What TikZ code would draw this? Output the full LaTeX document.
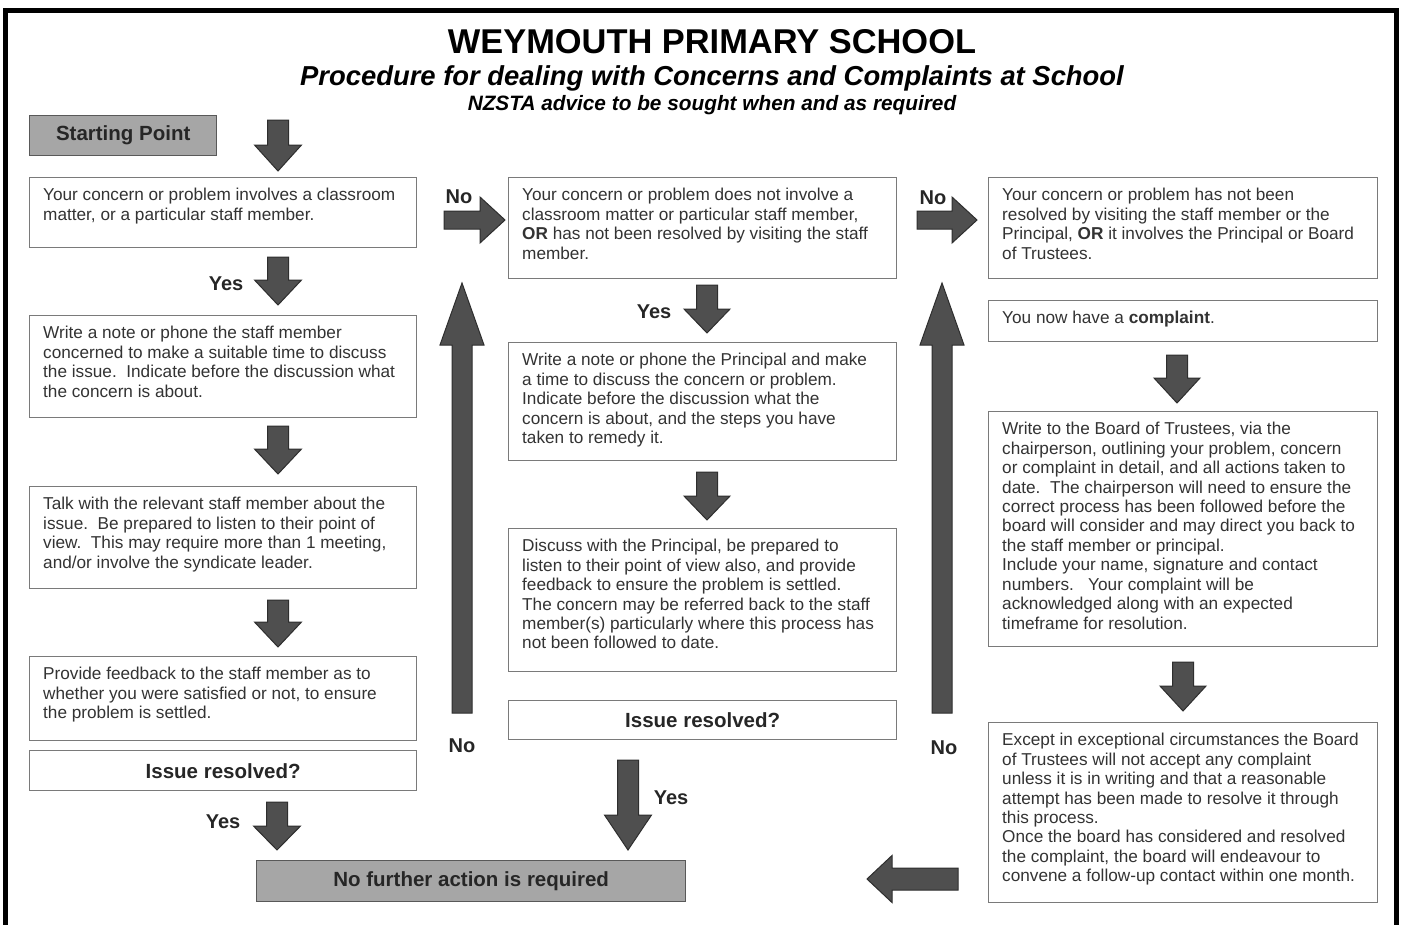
\documentclass[tikz,border=0pt]{standalone}
\usepackage{fontspec}
\setmainfont{Liberation Sans}
\definecolor{arrfill}{HTML}{4F4F4F}
\definecolor{arrline}{HTML}{2E2E2E}
\definecolor{boxline}{HTML}{7A7A7A}
\definecolor{grayfill}{HTML}{A6A6A6}
\definecolor{txtc}{HTML}{333333}
\tikzset{
  box/.style={draw=boxline, line width=1.4pt, fill=white, inner sep=0pt, anchor=north west},
  graybox/.style={box, fill=grayfill, draw=black!65},
  body/.style={inner sep=0pt, anchor=north west, align=left, text=txtc, font=\fontsize{17.2}{19.45}\selectfont},
  boldc/.style={font=\fontsize{20.5}{23}\selectfont\bfseries, text=black!85},
  lbl/.style={inner sep=0pt, font=\fontsize{20}{22}\selectfont\bfseries, text=black!85},
  arr/.style={fill=arrfill, draw=arrline, line width=1pt, line join=miter},
}
\newcommand\tbox[6]{%
  \node[box, minimum width=#4pt, minimum height=#5pt] (#1) at (#2,-#3) {};
  \node[body] (#1t) at ([xshift=14pt,yshift=-10.5pt]#1.north west) {\rule{0pt}{13pt}#6};}
\newcommand\cbox[7]{%
  \node[#7, minimum width=#4pt, minimum height=#5pt, boldc] (#1) at (#2,-#3) {#6};}
% down arrow: cx, ytop, ytip, shaft, head, headlen
\newcommand\darrow[6]{%
  \filldraw[arr] ({#1-#4/2},-#2) -- ({#1+#4/2},-#2) -- ({#1+#4/2},{-#3+#6}) -- ({#1+#5/2},{-#3+#6}) -- (#1,-#3) -- ({#1-#5/2},{-#3+#6}) -- ({#1-#4/2},{-#3+#6}) -- cycle;}
% up arrow: cx, ybottom, ytip, shaft, head, headlen
\newcommand\uarrow[6]{%
  \filldraw[arr] ({#1-#4/2},-#2) -- ({#1+#4/2},-#2) -- ({#1+#4/2},{-#3-#6}) -- ({#1+#5/2},{-#3-#6}) -- (#1,-#3) -- ({#1-#5/2},{-#3-#6}) -- ({#1-#4/2},{-#3-#6}) -- cycle;}
% right arrow: cy, xtail, xtip, shaft, head, headlen
\newcommand\rarrow[6]{%
  \filldraw[arr] (#2,{-#1+#4/2}) -- ({#3-#6},{-#1+#4/2}) -- ({#3-#6},{-#1+#5/2}) -- (#3,-#1) -- ({#3-#6},{-#1-#5/2}) -- ({#3-#6},{-#1-#4/2}) -- (#2,{-#1-#4/2}) -- cycle;}
% left arrow: cy, xtail, xtip, shaft, head, headlen
\newcommand\larrow[6]{%
  \filldraw[arr] (#2,{-#1+#4/2}) -- ({#3+#6},{-#1+#4/2}) -- ({#3+#6},{-#1+#5/2}) -- (#3,-#1) -- ({#3+#6},{-#1-#5/2}) -- ({#3+#6},{-#1-#4/2}) -- (#2,{-#1-#4/2}) -- cycle;}
\frenchspacing
\begin{document}
\begin{tikzpicture}[x=1pt,y=1pt]
\useasboundingbox (0,0) rectangle (1402,-924);
\fill[white] (0,0) rectangle (1402,-924);
\begin{scope}
\clip (0,0) rectangle (1402,-924);
\draw[line width=5pt] (5,-10) rectangle (1396,-980);
\end{scope}

% titles
\node[anchor=base, inner sep=0pt, font=\fontsize{34.4}{38}\selectfont\bfseries] (title) at (712,-53) {WEYMOUTH PRIMARY SCHOOL};
\node[anchor=base, inner sep=0pt, font=\fontsize{27.4}{30}\selectfont\bfseries\itshape] (sub) at (712,-85) {Procedure for dealing with Concerns and Complaints at School};
\node[anchor=base, inner sep=0pt, font=\fontsize{20.8}{23}\selectfont\bfseries\itshape] (sub2) at (712,-110) {NZSTA advice to be sought when and as required};

% left column
\cbox{sp}{29}{115}{187}{40}{Starting Point}{graybox}
\tbox{L1}{29}{177}{387}{70}{Your concern or problem involves a classroom\\matter, or a particular staff member.}
\tbox{L2}{29}{315}{387}{102}{Write a note or phone the staff member\\concerned to make a suitable time to discuss\\the issue.\ \ Indicate before the discussion what\\the concern is about.}
\tbox{L3}{29}{486}{387}{102}{Talk with the relevant staff member about the\\issue.\ \ Be prepared to listen to their point of\\view.\ \ This may require more than 1 meeting,\\and/or involve the syndicate leader.}
\tbox{L4}{29}{656}{387}{84}{Provide feedback to the staff member as to\\whether you were satisfied or not, to ensure\\the problem is settled.}
\cbox{L5}{29}{750}{387}{40}{Issue resolved?}{box}

% middle column
\tbox{M1}{508}{177}{388}{101}{Your concern or problem does not involve a\\classroom matter or particular staff member,\\\textbf{OR} has not been resolved by visiting the staff\\member.}
\tbox{M2}{508}{342}{388}{118}{Write a note or phone the Principal and make\\a time to discuss the concern or problem.\\Indicate before the discussion what the\\concern is about, and the steps you have\\taken to remedy it.}
\tbox{M3}{508}{528}{388}{143}{Discuss with the Principal, be prepared to\\listen to their point of view also, and provide\\feedback to ensure the problem is settled.\\The concern may be referred back to the staff\\member(s) particularly where this process has\\not been followed to date.}
\cbox{M4}{508}{700}{388}{39}{Issue resolved?}{box}

% right column
\tbox{R1}{988}{177}{389}{101}{Your concern or problem has not been\\resolved by visiting the staff member or the\\Principal, \textbf{OR} it involves the Principal or Board\\of Trustees.}
\tbox{R2}{988}{300}{389}{41}{You now have a \textbf{complaint}.}
\tbox{R3}{988}{411}{389}{235}{Write to the Board of Trustees, via the\\chairperson, outlining your problem, concern\\or complaint in detail, and all actions taken to\\date.\ \ The chairperson will need to ensure the\\correct process has been followed before the\\board will consider and may direct you back to\\the staff member or principal.\\Include your name, signature and contact\\numbers.\ \ \ Your complaint will be\\acknowledged along with an expected\\timeframe for resolution.}
\tbox{R4}{988}{722}{389}{180}{Except in exceptional circumstances the Board\\of Trustees will not accept any complaint\\unless it is in writing and that a reasonable\\attempt has been made to resolve it through\\this process.\\Once the board has considered and resolved\\the complaint, the board will endeavour to\\convene a follow-up contact within one month.}

\cbox{end}{256}{860}{429}{41}{No further action is required}{graybox}

% arrows
\darrow{278}{120}{171}{21}{47}{26}
\darrow{278}{257}{305}{21}{47}{25}
\darrow{278}{426}{474}{21}{47}{25}
\darrow{278}{600}{647}{21}{47}{25}
\darrow{277}{802}{850}{21}{47}{24}
\darrow{707}{285}{333}{21}{46}{24}
\darrow{707}{472}{520}{21}{46}{24}
\darrow{628}{760}{850}{21}{47}{35}
\darrow{1177}{355}{403}{21}{46}{25}
\darrow{1183}{662}{711}{21}{46}{25}
\uarrow{462}{713}{283}{20}{44}{62}
\uarrow{942}{713}{283}{20}{44}{62}
\rarrow{220}{444}{505}{18}{46}{25}
\rarrow{220}{917}{977}{18}{46}{25}
\larrow{879}{958}{867}{22}{47}{25}

% labels
\node[lbl] (no1) at (459,-197) {No};
\node[lbl] (no2) at (933,-198) {No};
\node[lbl] (yes1) at (226,-284) {Yes};
\node[lbl] (yes2) at (654,-312) {Yes};
\node[lbl] (yes3) at (223,-822) {Yes};
\node[lbl] (yes4) at (671,-798) {Yes};
\node[lbl] (no3) at (462,-746) {No};
\node[lbl] (no4) at (944,-748) {No};
\end{tikzpicture}
\end{document}
